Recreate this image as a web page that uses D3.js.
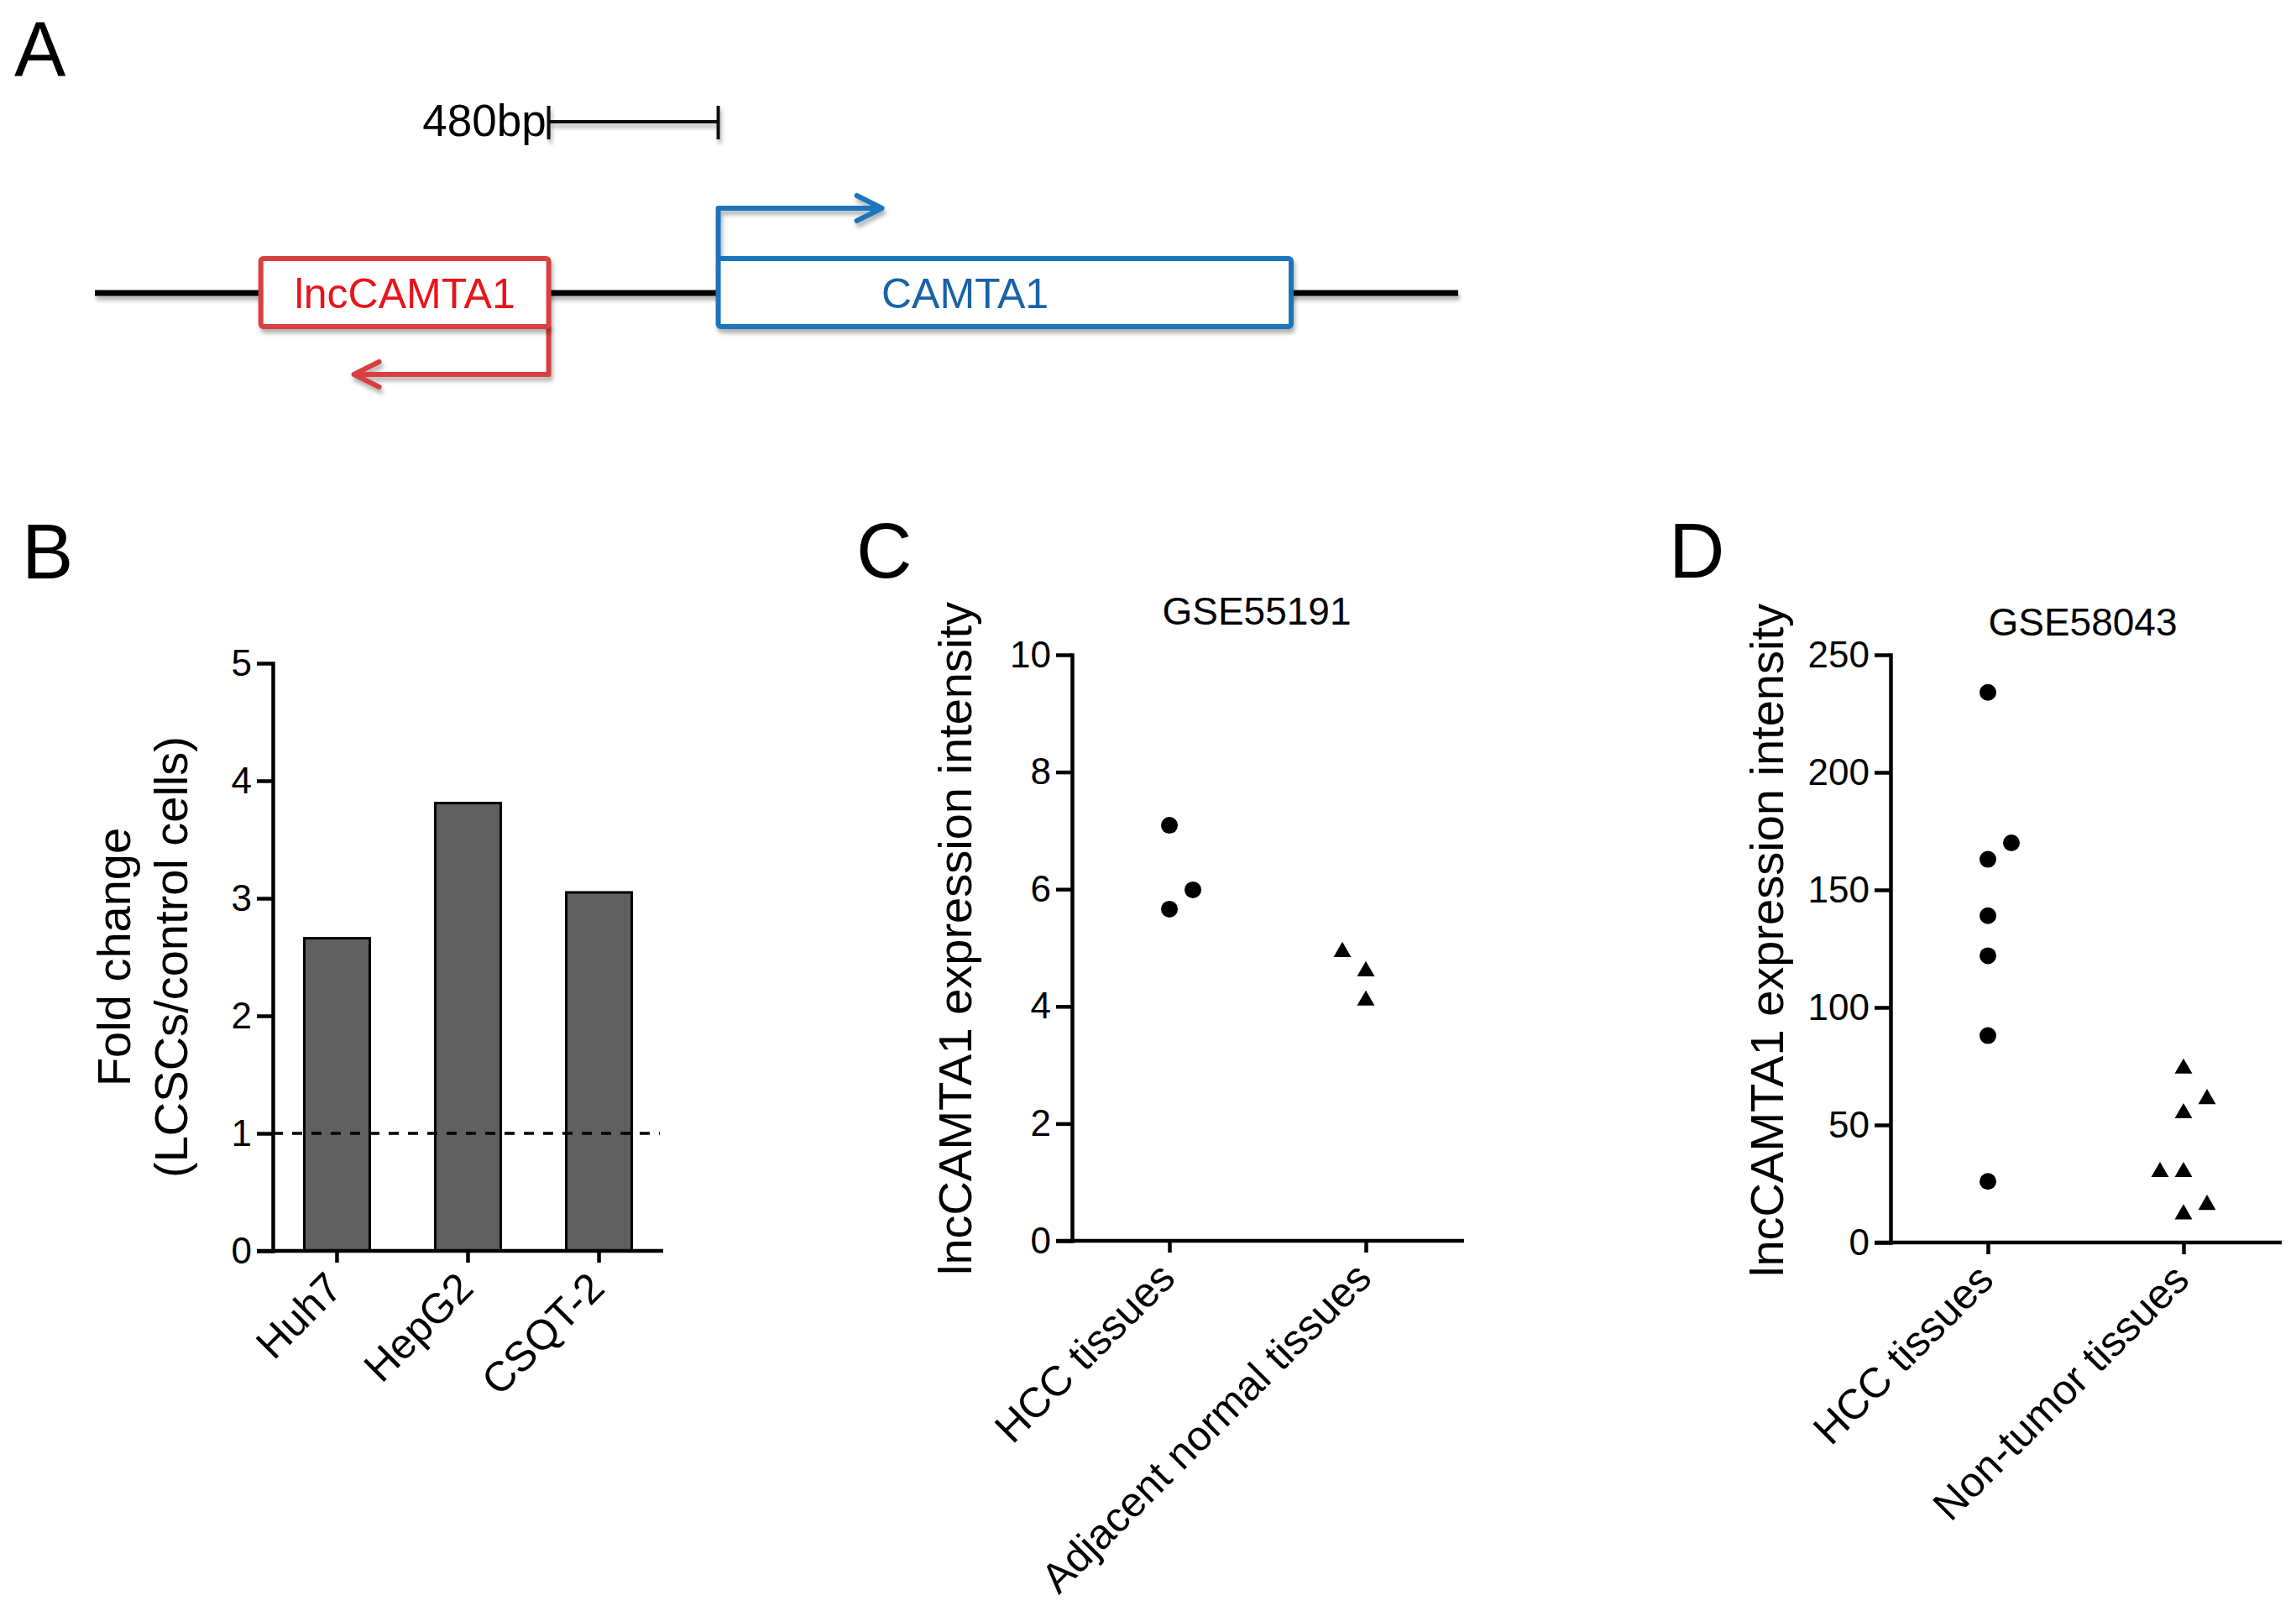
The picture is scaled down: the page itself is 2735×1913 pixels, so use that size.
<!DOCTYPE html>
<html>
<head>
<meta charset="utf-8">
<script src="https://cdn.jsdelivr.net/npm/d3@7"></script>
<style>
  html, body { margin: 0; padding: 0; background: #fff; }
  svg { display: block; font-family: "Liberation Sans", Arial, Helvetica, sans-serif; }
</style>
</head>
<body>
<svg id="fig" width="2735" height="1913"></svg>
<script>
// ---- panel A: gene map, in bp ----
const locusBp = [0, 3860];
const lncBp = [470, 1285];
const camtaBp = [1765, 3387];
const scaleBarBp = 480;

// ---- panel B: fold change ----
const cellLines = ["Huh7", "HepG2", "CSQT-2"];
const foldChange = [2.66, 3.81, 3.05];
const foldTicks = [0, 1, 2, 3, 4, 5];
const foldRef = 1;

// ---- panel C: GSE55191 ----
const gse55191Groups = ["HCC tissues", "Adjacent normal tissues"];
const gse55191Hcc = [7.09, 5.99, 5.66];
const gse55191HccCol = [0, 1, 0];
const gse55191Normal = [4.93, 4.60, 4.10];
const gse55191NormalCol = [-1, 0, 0];
const gse55191Ticks = [0, 2, 4, 6, 8, 10];

// ---- panel D: GSE58043 ----
const gse58043Groups = ["HCC tissues", "Non-tumor tissues"];
const gse58043Hcc = [234, 163, 170, 139, 122, 88, 26];
const gse58043HccCol = [0, 0, 1, 0, 0, 0, 0];
const gse58043NonTumor = [74, 61, 55, 30, 30, 16, 12];
const gse58043NonTumorCol = [0, 1, 0, -1, 0, 1, 0];
const gse58043Ticks = [0, 50, 100, 150, 200, 250];

const FONT = '"Liberation Sans", Arial, Helvetica, sans-serif';
const AXIS_W = 4.5;
const TICK_LEN = 19;

const svg = d3.select("#fig");
svg.append("rect").attr("width", 2735).attr("height", 1913).attr("fill", "#fff");

const defs = svg.append("defs");
defs.append("filter")
  .attr("id", "shadow")
  .attr("filterUnits", "userSpaceOnUse")
  .attr("x", 0).attr("y", 0).attr("width", 2735).attr("height", 600)
  .append("feDropShadow")
  .attr("dx", 2).attr("dy", 5).attr("stdDeviation", 2.5)
  .attr("flood-color", "#000").attr("flood-opacity", 0.3);

// panel letters
[["A", 17, 91], ["B", 26, 689], ["C", 1020, 688], ["D", 1988, 688]].forEach(([t, x, y]) => {
  svg.append("text").attr("x", x).attr("y", y).text(t)
    .style("font-size", "92px").style("font-family", FONT).attr("fill", "#000");
});

// ================= A =================
const xBp = d3.scaleLinear().domain(locusBp).range([113, 1737]);
const gA = svg.append("g");
const lineY = 349, boxTop = 308, boxH = 81;
const red = "#d73f3f", blue = "#1a74bc";

gA.append("line")
  .attr("x1", xBp(locusBp[0])).attr("x2", xBp(locusBp[1]))
  .attr("y1", lineY).attr("y2", lineY)
  .attr("stroke", "#000").attr("stroke-width", 7)
  .attr("filter", "url(#shadow)");

// scale bar
const sb0 = xBp(lncBp[1]), sb1 = xBp(lncBp[1] + scaleBarBp);
const sbar = gA.append("g").attr("stroke", "#111").attr("stroke-width", 4).attr("filter", "url(#shadow)");
sbar.append("line").attr("x1", sb0).attr("x2", sb1).attr("y1", 145).attr("y2", 145);
sbar.append("line").attr("x1", sb0).attr("x2", sb0).attr("y1", 126).attr("y2", 166);
sbar.append("line").attr("x1", sb1).attr("x2", sb1).attr("y1", 126).attr("y2", 166);
gA.append("text").attr("x", sb0 - 3).attr("y", 162).attr("text-anchor", "end")
  .style("font-size", "53px").attr("fill", "#000").text(scaleBarBp + "bp");

// arrows
const lncTss = xBp(lncBp[1]);
const redTip = lncTss - 232;
gA.append("path")
  .attr("d", `M${lncTss},${boxTop + boxH} V446 H${redTip} M${redTip + 30},431 L${redTip},446 L${redTip + 30},461`)
  .attr("fill", "none").attr("stroke", red).attr("stroke-width", 6)
  .attr("stroke-linejoin", "round").attr("stroke-linecap", "round")
  .attr("filter", "url(#shadow)");

const camTss = xBp(camtaBp[0]);
const blueTip = camTss + 195;
gA.append("path")
  .attr("d", `M${camTss},${boxTop} V248 H${blueTip} M${blueTip - 30},233 L${blueTip},248 L${blueTip - 30},263`)
  .attr("fill", "none").attr("stroke", blue).attr("stroke-width", 6)
  .attr("stroke-linejoin", "round").attr("stroke-linecap", "round")
  .attr("filter", "url(#shadow)");

// boxes
gA.append("rect")
  .attr("x", xBp(lncBp[0])).attr("y", boxTop)
  .attr("width", xBp(lncBp[1]) - xBp(lncBp[0])).attr("height", boxH)
  .attr("rx", 3).attr("fill", "#fff").attr("stroke", red).attr("stroke-width", 6)
  .attr("filter", "url(#shadow)");
gA.append("rect")
  .attr("x", xBp(camtaBp[0])).attr("y", boxTop)
  .attr("width", xBp(camtaBp[1]) - xBp(camtaBp[0])).attr("height", boxH)
  .attr("rx", 3).attr("fill", "#fff").attr("stroke", blue).attr("stroke-width", 6)
  .attr("filter", "url(#shadow)");

gA.append("text")
  .attr("x", (xBp(lncBp[0]) + xBp(lncBp[1])) / 2).attr("y", 367)
  .attr("text-anchor", "middle").style("font-size", "50px").attr("fill", "#e8141c")
  .text("lncCAMTA1");
gA.append("text")
  .attr("x", xBp(camtaBp[0]) + 294).attr("y", 367)
  .attr("text-anchor", "middle").style("font-size", "50px").attr("fill", "#1a62a8")
  .text("CAMTA1");

// ================= shared axis helper =================
function styleAxis(sel) {
  sel.selectAll(".domain, .tick line").attr("stroke", "#000").attr("stroke-width", AXIS_W);
  sel.selectAll("text").style("font-family", FONT).attr("fill", "#000");
}

function drawAxes(g, x, y, ticks, axisX, xEnd) {
  const yAx = g.append("g").attr("transform", `translate(${axisX},0)`)
    .call(d3.axisLeft(y).tickValues(ticks).tickFormat(d3.format("d"))
      .tickSizeInner(TICK_LEN).tickSizeOuter(0).tickPadding(6));
  styleAxis(yAx);
  yAx.selectAll("text").style("font-size", "44px");
  yAx.select(".domain").attr("stroke-linecap", "square");

  const base = y.range()[0];
  const xAx = g.append("g").attr("transform", `translate(0,${base})`)
    .call(d3.axisBottom(x).tickSizeInner(14).tickSizeOuter(0));
  xAx.select(".domain").remove();
  styleAxis(xAx);
  xAx.selectAll("text")
    .attr("y", 0).attr("dy", 0)
    .attr("text-anchor", "end")
    .attr("transform", "translate(9,47) rotate(-45)")
    .style("font-size", "50px");
  g.append("line")
    .attr("x1", axisX - TICK_LEN).attr("x2", xEnd)
    .attr("y1", base).attr("y2", base)
    .attr("stroke", "#000").attr("stroke-width", AXIS_W);
}

// ================= B =================
const gB = svg.append("g");
const yB = d3.scaleLinear().domain([0, 5]).range([1490, 790]);
const xB = d3.scaleBand().domain(cellLines).range([325, 790]).paddingInner(0.5).paddingOuter(0.24);

gB.selectAll("rect.bar")
  .data(cellLines.map((c, i) => ({ c, v: foldChange[i] })))
  .enter().append("rect")
  .attr("class", "bar")
  .attr("x", d => xB(d.c))
  .attr("width", xB.bandwidth())
  .attr("y", d => yB(d.v))
  .attr("height", d => yB(0) - yB(d.v))
  .attr("fill", "#606060").attr("stroke", "#000").attr("stroke-width", 3);

gB.append("line")
  .attr("x1", 325).attr("x2", 786)
  .attr("y1", yB(foldRef)).attr("y2", yB(foldRef))
  .attr("stroke", "#000").attr("stroke-width", 3.5).attr("stroke-dasharray", "12,11");

drawAxes(gB, xB, yB, foldTicks, 325, 790);

gB.append("text")
  .attr("transform", `translate(155,1140) rotate(-90)`)
  .attr("text-anchor", "middle").style("font-size", "56px").attr("fill", "#000")
  .text("Fold change");
gB.append("text")
  .attr("transform", `translate(223,1140) rotate(-90)`)
  .attr("text-anchor", "middle").style("font-size", "56px").attr("fill", "#000")
  .text("(LCSCs/control cells)");

// ================= scatter panels =================
const colX = d3.scaleLinear().domain([-1, 1]).range([-28, 28]);
const dot = d3.symbol().type(d3.symbolCircle).size(Math.PI * 10 * 10);
const tri = d3.symbol().type(d3.symbolTriangle).size(190);

function scatterPanel(p) {
  const g = svg.append("g");
  const y = d3.scaleLinear().domain(d3.extent(p.ticks)).range([p.base, p.top]);
  const x = d3.scalePoint().domain(p.groups).range(p.pointRange);

  drawAxes(g, x, y, p.ticks, p.axisX, p.xEnd);

  const pts = [];
  p.first.forEach((v, i) => pts.push({ g: p.groups[0], v, c: p.firstCol[i], s: dot }));
  p.second.forEach((v, i) => pts.push({ g: p.groups[1], v, c: p.secondCol[i], s: tri }));
  g.selectAll("path.pt").data(pts).enter().append("path")
    .attr("class", "pt")
    .attr("d", d => d.s())
    .attr("transform", d => `translate(${x(d.g) + colX(d.c)},${y(d.v)})`)
    .attr("fill", "#000");

  g.append("text").attr("x", p.titleX).attr("y", p.titleY)
    .attr("text-anchor", "middle").style("font-size", "46px").attr("fill", "#000")
    .text(p.title);
  g.append("text")
    .attr("transform", `translate(${p.labelX},${p.labelY}) rotate(-90)`)
    .attr("text-anchor", "middle").style("font-size", "56px").attr("fill", "#000")
    .text("lncCAMTA1 expression intensity");
}

scatterPanel({
  groups: gse55191Groups, ticks: gse55191Ticks,
  first: gse55191Hcc, firstCol: gse55191HccCol,
  second: gse55191Normal, secondCol: gse55191NormalCol,
  base: 1478, top: 780, axisX: 1277, xEnd: 1744, pointRange: [1393, 1627],
  title: "GSE55191", titleX: 1497, titleY: 744, labelX: 1157, labelY: 1118
});

scatterPanel({
  groups: gse58043Groups, ticks: gse58043Ticks,
  first: gse58043Hcc, firstCol: gse58043HccCol,
  second: gse58043NonTumor, secondCol: gse58043NonTumorCol,
  base: 1480, top: 780, axisX: 2252, xEnd: 2718, pointRange: [2368, 2601],
  title: "GSE58043", titleX: 2481, titleY: 757, labelX: 2124, labelY: 1120
});
</script>
</body>
</html>
